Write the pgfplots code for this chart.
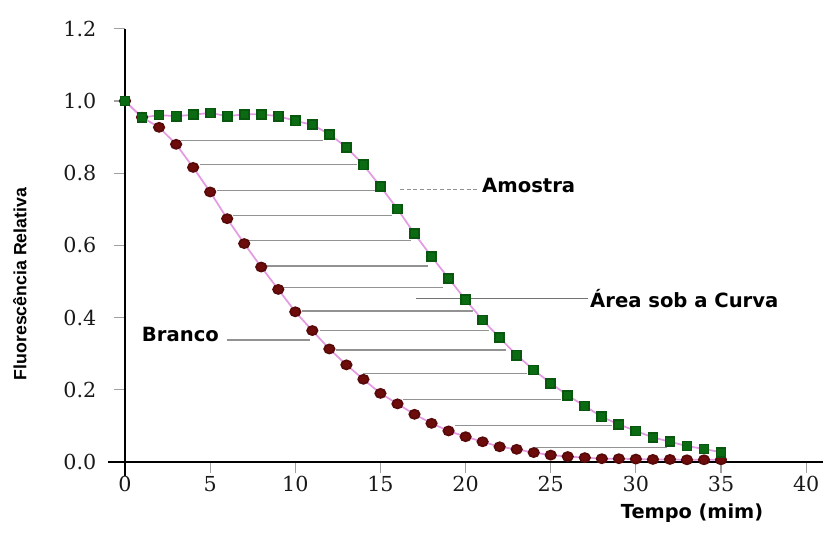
\documentclass[border=0pt]{standalone}
\usepackage{pgfplots}
\pgfplotsset{compat=1.18}
\usepackage{fontspec}
\setmainfont{DejaVu Sans}
\newfontfamily\serf{DejaVu Serif}
\newfontfamily\arialb{Liberation Sans}
\definecolor{mgreen}{HTML}{0B6B12}
\definecolor{mred}{HTML}{6E0B0B}
\definecolor{mpink}{HTML}{E39BE3}
\definecolor{hgray}{HTML}{929292}
\definecolor{tgray}{HTML}{A0A0A0}
\begin{document}
\begin{tikzpicture}
\useasboundingbox (-81pt,-55.2pt) rectangle (538.5pt,357.3pt);
\begin{axis}[
  at={(0,0)}, anchor=south west, scale only axis,
  width=536.4pt, height=335.7pt,
  xmin=-1, xmax=41, ymin=-0.04, ymax=1.2,
  axis x line=middle, axis y line=middle,
  axis line style={-, black, line width=1.1pt},
  hide obscured x ticks=false, hide obscured y ticks=false,
  xtick={0,5,10,15,20,25,30,35,40},
  ytick={0,0.2,0.4,0.6,0.8,1.0,1.2},
  tick align=outside,
  major tick length=8pt,
  tick style={tgray, line width=0.9pt},
  /pgf/number format/assume math mode=true,
  ticklabel style={font=\serf\fontsize{15.5}{15.5}\selectfont, text=black!90},
  yticklabel style={xshift=-10pt},
  xticklabel style={yshift=1pt},
  yticklabel={\pgfmathprintnumber[fixed,fixed zerofill,precision=1]{\tick}},
  unbounded coords=jump,
  clip=false,
]
% hatch lines (area between curves)
\addplot[hgray, line width=0.9pt] coordinates {
 (3.3,0.89) (11.65,0.89) (nan,nan)
 (4.4,0.825) (13.6,0.825) (nan,nan)
 (5.4,0.753) (14.7,0.753) (nan,nan)
 (6.35,0.682) (15.7,0.682) (nan,nan)
 (7.15,0.613) (16.8,0.613) (nan,nan)
 (8.3,0.543) (17.8,0.543) (nan,nan)
 (9.3,0.484) (18.7,0.484) (nan,nan)
 (10.4,0.418) (20.45,0.418) (nan,nan)
 (11.45,0.365) (21.4,0.365) (nan,nan)
 (12.4,0.31) (22.4,0.31) (nan,nan)
 (14.0,0.246) (23.6,0.246) (nan,nan)
 (16.3,0.174) (25.6,0.174) (nan,nan)
 (19.4,0.1) (28.6,0.1) (nan,nan)
 (24.0,0.041) (31.8,0.041)
};
% leader lines
\addplot[hgray, line width=0.9pt, densely dashed] coordinates {(16.15,0.755) (20.65,0.755)};
\addplot[black!55, line width=0.9pt] coordinates {(17.1,0.453) (27.2,0.453)};
\addplot[hgray, line width=0.9pt] coordinates {(5.97,0.338) (10.87,0.338)};
% Branco
\addplot[mpink, line width=1.3pt, mark=*, mark size=3.4pt,
  mark options={solid, fill=mred, draw=mred!80!black, xscale=1.15}] coordinates {
 (0,1.0) (1,0.955) (2,0.927) (3,0.88) (4,0.816) (5,0.748) (6,0.674) (7,0.605)
 (8,0.54) (9,0.478) (10,0.416) (11,0.364) (12,0.313) (13,0.269) (14,0.229)
 (15,0.19) (16,0.161) (17,0.132) (18,0.107) (19,0.086) (20,0.070) (21,0.056)
 (22,0.042) (23,0.035) (24,0.026) (25,0.019) (26,0.015) (27,0.012) (28,0.009)
 (29,0.009) (30,0.008) (31,0.007) (32,0.007) (33,0.006) (34,0.006) (35,0.006)
};
% Amostra
\addplot[mpink, line width=1.3pt, mark=square*, mark size=3.4pt,
  mark options={solid, fill=mgreen, draw=mgreen!80!black}] coordinates {
 (0,1.0) (1,0.954) (2,0.961) (3,0.958) (4,0.962) (5,0.967) (6,0.958) (7,0.963)
 (8,0.963) (9,0.958) (10,0.945) (11,0.934) (12,0.908) (13,0.872) (14,0.823)
 (15,0.763) (16,0.701) (17,0.632) (18,0.569) (19,0.509) (20,0.449) (21,0.393)
 (22,0.344) (23,0.296) (24,0.255) (25,0.218) (26,0.184) (27,0.155) (28,0.125)
 (29,0.104) (30,0.086) (31,0.068) (32,0.056) (33,0.044) (34,0.036) (35,0.027)
};
\node[anchor=west, inner sep=0pt, font=\bfseries\fontsize{14.7}{14.7}\selectfont] at (axis cs:20.96,0.765) {Amostra};
\node[anchor=west, inner sep=0pt, font=\bfseries\fontsize{14.7}{14.7}\selectfont] at (axis cs:27.3,0.454) {Área sob a Curva};
\node[anchor=west, inner sep=0pt, font=\bfseries\fontsize{14.7}{14.7}\selectfont] at (axis cs:0.98,0.354) {Branco};
\node[inner sep=0pt, font=\bfseries\fontsize{14.5}{14.5}\selectfont] at (axis cs:33.3,-0.142) {Tempo (mim)};
\node[inner sep=0pt, rotate=90, font=\arialb\bfseries\fontsize{13.3}{13.3}\selectfont] at (axis cs:-6.17,0.493) {Fluorescência Relativa};
\end{axis}
\end{tikzpicture}
\end{document}
